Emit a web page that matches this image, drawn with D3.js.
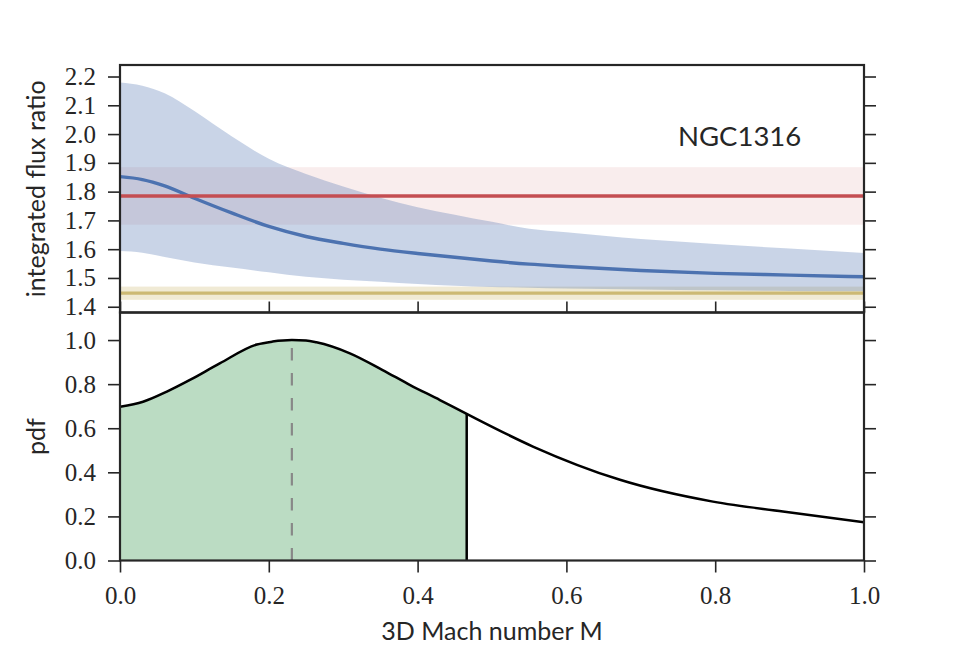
<!DOCTYPE html>
<html>
<head>
<meta charset="utf-8">
<script src="https://cdn.jsdelivr.net/npm/d3@7"></script>
<style>
  html, body { margin: 0; padding: 0; background: #fff; }
  svg { display: block; }
</style>
</head>
<body>
<svg id="chart" width="960" height="660"></svg>
<script>
// ---------------- data ----------------
const machGrid   = [0.00, 0.03, 0.06, 0.10, 0.15, 0.20, 0.25, 0.30, 0.35, 0.40, 0.45, 0.50, 0.55, 0.60, 0.70, 0.80, 0.90, 1.00];
const ratioModel = [1.852, 1.842, 1.820, 1.777, 1.726, 1.679, 1.644, 1.620, 1.600, 1.585, 1.572, 1.559, 1.548, 1.540, 1.526, 1.516, 1.510, 1.504];
const ratioUpper = [2.179, 2.168, 2.142, 2.080, 1.992, 1.914, 1.861, 1.818, 1.779, 1.746, 1.720, 1.695, 1.671, 1.659, 1.635, 1.618, 1.602, 1.587];
const ratioLower = [1.594, 1.588, 1.573, 1.554, 1.536, 1.520, 1.504, 1.494, 1.487, 1.479, 1.473, 1.469, 1.466, 1.463, 1.460, 1.457, 1.455, 1.454];

const observedRatio = 1.785;      // red
const observedErr   = 0.100;
const refRatio      = 1.447;      // yellow
const refErr        = 0.023;

const pdfMach  = [0.000, 0.031, 0.063, 0.094, 0.134, 0.184, 0.205, 0.231, 0.250, 0.264, 0.309, 0.353, 0.390, 0.430, 0.466, 0.555, 0.672, 0.797, 0.891, 1.000];
const pdfValue = [0.697, 0.720, 0.766, 0.819, 0.894, 0.980, 0.993, 1.000, 0.998, 0.990, 0.940, 0.864, 0.796, 0.728, 0.665, 0.517, 0.366, 0.267, 0.222, 0.174];

const machMode  = 0.231;
const machUpper = 0.466;

const topTicks    = [1.4, 1.5, 1.6, 1.7, 1.8, 1.9, 2.0, 2.1, 2.2];
const bottomTicks = [0.0, 0.2, 0.4, 0.6, 0.8, 1.0];
const xTicks      = [0.0, 0.2, 0.4, 0.6, 0.8, 1.0];

const labelTopY    = "integrated flux ratio";
const labelBottomY = "pdf";
const labelX       = "3D Mach number M";
const objectName   = "NGC1316";

// ---------------- layout ----------------
const svg = d3.select("#chart");
const L = 120, R = 864;
const topT = 65, topB = 312.5, botT = 312.5, botB = 560.5;
const ink = "#262626";
const serif = "'Liberation Serif', 'Times New Roman', serif";
const sans = "Lato, 'Open Sans', sans-serif";

const x = d3.scaleLinear().domain([0, 1]).range([L, R]);
const yTop = d3.scaleLinear().domain([1.38, 2.24]).range([topB, topT]);
const yBot = d3.scaleLinear().domain([0, 1.125]).range([botB, botT]);

// clip paths
const defs = svg.append("defs");
defs.append("clipPath").attr("id", "clipTop").append("rect")
  .attr("x", L).attr("y", topT).attr("width", R - L).attr("height", topB - topT);
defs.append("clipPath").attr("id", "clipBot").append("rect")
  .attr("x", L).attr("y", botT).attr("width", R - L).attr("height", botB - botT);

// ---------------- top panel ----------------
const gTop = svg.append("g").attr("clip-path", "url(#clipTop)");

gTop.append("rect")
  .attr("x", x(0)).attr("width", x(1) - x(0))
  .attr("y", yTop(observedRatio + observedErr))
  .attr("height", yTop(observedRatio - observedErr) - yTop(observedRatio + observedErr))
  .attr("fill", "#c44e52").attr("fill-opacity", 0.1);

gTop.append("rect")
  .attr("x", x(0)).attr("width", x(1) - x(0))
  .attr("y", yTop(refRatio + refErr))
  .attr("height", yTop(refRatio - refErr) - yTop(refRatio + refErr))
  .attr("fill", "#ccb974").attr("fill-opacity", 0.3);

const bandData = machGrid.map((m, i) => ({ m, lo: ratioLower[i], hi: ratioUpper[i], v: ratioModel[i] }));
gTop.append("path")
  .datum(bandData)
  .attr("d", d3.area().x(d => x(d.m)).y0(d => yTop(d.lo)).y1(d => yTop(d.hi)).curve(d3.curveMonotoneX))
  .attr("fill", "#4c72b0").attr("fill-opacity", 0.3);

gTop.append("line")
  .attr("x1", x(0)).attr("x2", x(1))
  .attr("y1", yTop(refRatio)).attr("y2", yTop(refRatio))
  .attr("stroke", "#ccb974").attr("stroke-width", 3.2);

gTop.append("path")
  .datum(bandData)
  .attr("d", d3.line().x(d => x(d.m)).y(d => yTop(d.v)).curve(d3.curveMonotoneX))
  .attr("fill", "none").attr("stroke", "#4c72b0").attr("stroke-width", 3.4);

gTop.append("line")
  .attr("x1", x(0)).attr("x2", x(1))
  .attr("y1", yTop(observedRatio)).attr("y2", yTop(observedRatio))
  .attr("stroke", "#c44e52").attr("stroke-width", 3.4);

svg.append("text")
  .attr("x", x(0.75)).attr("y", yTop(1.96))
  .attr("font-family", sans).attr("font-size", 27.5).attr("fill", ink)
  .text(objectName);

// ---------------- bottom panel ----------------
const gBot = svg.append("g").attr("clip-path", "url(#clipBot)");
const pdfData = pdfMach.map((m, i) => ({ m, v: pdfValue[i] }));
const fillData = pdfData.filter(d => d.m <= machUpper + 1e-9);

gBot.append("path")
  .datum(fillData)
  .attr("d", d3.area().x(d => x(d.m)).y0(yBot(0)).y1(d => yBot(d.v)).curve(d3.curveMonotoneX))
  .attr("fill", "#55a868").attr("fill-opacity", 0.4);

gBot.append("line")
  .attr("x1", x(machMode)).attr("x2", x(machMode))
  .attr("y1", yBot(0)).attr("y2", yBot(1.0))
  .attr("stroke", "#888").attr("stroke-width", 2.2)
  .attr("stroke-dasharray", "12.5,12.5");

const vAtUpper = pdfValue[pdfMach.indexOf(machUpper)];
gBot.append("line")
  .attr("x1", x(machUpper)).attr("x2", x(machUpper))
  .attr("y1", yBot(0)).attr("y2", yBot(vAtUpper))
  .attr("stroke", "#000").attr("stroke-width", 2.5);

gBot.append("path")
  .datum(pdfData)
  .attr("d", d3.line().x(d => x(d.m)).y(d => yBot(d.v)).curve(d3.curveMonotoneX))
  .attr("fill", "none").attr("stroke", "#000").attr("stroke-width", 2.5);

// ---------------- axes ----------------
function styleAxis(g) {
  g.select(".domain").remove();
  g.selectAll(".tick line").attr("stroke", ink).attr("stroke-width", 1.6);
  g.selectAll(".tick text").attr("fill", ink).attr("font-family", serif).attr("font-size", 25);
}
const fmt = d3.format(".1f");

svg.append("g").attr("transform", `translate(${L},0)`)
  .call(d3.axisLeft(yTop).tickValues(topTicks).tickFormat(fmt).tickSize(12).tickPadding(12))
  .call(styleAxis);
svg.append("g").attr("transform", `translate(${R},0)`)
  .call(d3.axisRight(yTop).tickValues(topTicks).tickFormat("").tickSize(12))
  .call(styleAxis);
svg.append("g").attr("transform", `translate(0,${botT})`)
  .call(d3.axisTop(x).tickValues(xTicks).tickFormat("").tickSize(11))
  .call(styleAxis);

svg.append("g").attr("transform", `translate(${L},0)`)
  .call(d3.axisLeft(yBot).tickValues(bottomTicks).tickFormat(fmt).tickSize(12).tickPadding(12))
  .call(styleAxis);
svg.append("g").attr("transform", `translate(${R},0)`)
  .call(d3.axisRight(yBot).tickValues(bottomTicks).tickFormat("").tickSize(12))
  .call(styleAxis);
svg.append("g").attr("transform", `translate(0,${botB})`)
  .call(d3.axisBottom(x).tickValues(xTicks).tickFormat(fmt).tickSize(12).tickPadding(14))
  .call(styleAxis);

[[topT, topB], [botT, botB]].forEach(([t, b]) => {
  svg.append("rect")
    .attr("x", L).attr("y", t).attr("width", R - L).attr("height", b - t)
    .attr("fill", "none").attr("stroke", ink).attr("stroke-width", 2.2);
});

// axis labels
svg.append("text")
  .attr("transform", `translate(45,${(topT + topB) / 2}) rotate(-90)`)
  .attr("text-anchor", "middle")
  .attr("font-family", sans).attr("font-size", 25).attr("fill", ink)
  .text(labelTopY);
svg.append("text")
  .attr("transform", `translate(45,${(botT + botB) / 2}) rotate(-90)`)
  .attr("text-anchor", "middle")
  .attr("font-family", sans).attr("font-size", 25).attr("fill", ink)
  .text(labelBottomY);
svg.append("text")
  .attr("x", (L + R) / 2).attr("y", 640)
  .attr("text-anchor", "middle")
  .attr("font-family", sans).attr("font-size", 25).attr("fill", ink)
  .text(labelX);
</script>
</body>
</html>
